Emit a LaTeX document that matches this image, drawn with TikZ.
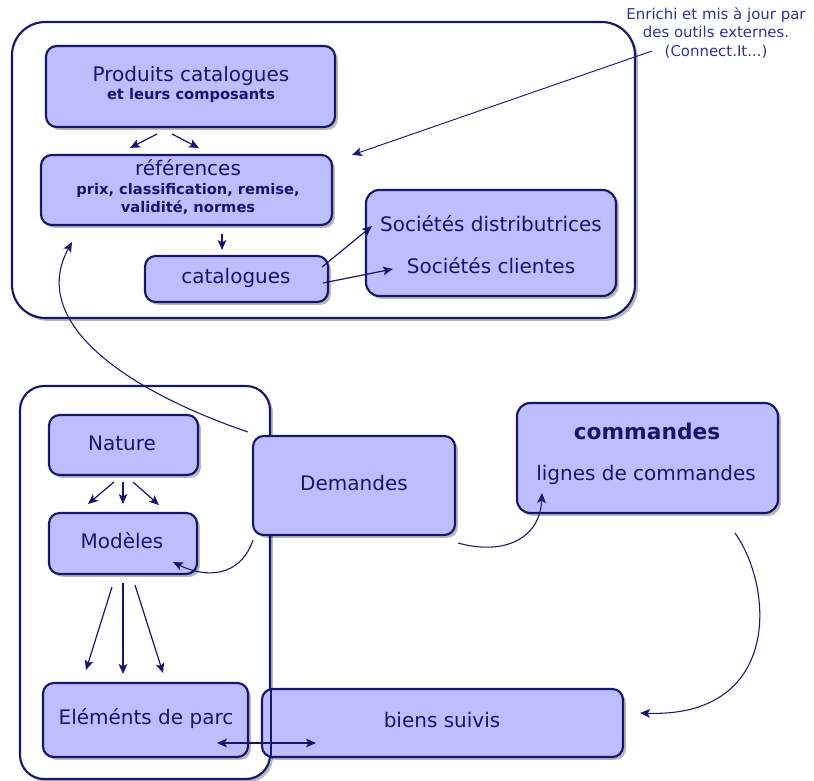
\documentclass[tikz,border=0pt]{standalone}
\usepackage{fontspec}
\setmainfont{DejaVu Sans}
\usetikzlibrary{fit,shadows,arrows.meta}
\definecolor{navy}{RGB}{22,22,108}
\definecolor{lav}{RGB}{190,190,255}
\definecolor{annot}{RGB}{50,50,150}
\tikzset{
  shade/.style={drop shadow={shadow xshift=2.2pt, shadow yshift=-2.2pt, fill=black, opacity=0.28}},
  box/.style={draw=navy, line width=1.6pt, fill=lav, rounded corners=8pt, inner sep=0pt, shade},
  cont/.style={draw=navy, line width=1.6pt, fill=white, inner sep=0pt, shade},
  lbl/.style={text=navy, font=\fontsize{15}{17}\selectfont, inner sep=0pt, anchor=base},
  sublbl/.style={text=navy, font=\bfseries\fontsize{11}{13}\selectfont, inner sep=0pt, anchor=base},
  tip/.style={Stealth[length=7.5pt,width=6.5pt,inset=1.8pt]},
  arr/.style={draw=navy, line width=0.9pt, -{Stealth[length=7.5pt,width=6.5pt,inset=1.8pt]}},
  darr/.style={draw=navy, line width=0.9pt, {Stealth[length=7.5pt,width=6.5pt,inset=1.8pt]}-{Stealth[length=7.5pt,width=6.5pt,inset=1.8pt]}},
  curv/.style={draw=navy, line width=0.8pt, -{Stealth[length=7.5pt,width=6.5pt,inset=1.8pt]}},
}
\begin{document}
\begin{tikzpicture}[x=0.75pt,y=-0.75pt]
\useasboundingbox (0,0) rectangle (814,781);
% ---------- top container ----------
\coordinate (t1) at (12,22); \coordinate (t2) at (635,318);
\node[cont, rounded corners=25pt, fit=(t1)(t2)] (top) {};
\coordinate (p1) at (46,46); \coordinate (p2) at (335,127);
\node[box, fit=(p1)(p2)] (prod) {};
\node[lbl] (tprod) at (191,82) {Produits catalogues};
\node[sublbl] (tprod2) at (191,100) {et leurs composants};
\coordinate (r1) at (41,155); \coordinate (r2) at (332,225);
\node[box, fit=(r1)(r2)] (ref) {};
\node[lbl] (tref) at (188,176) {références};
\node[sublbl] (tref2) at (188,195) {prix, classification, remise,};
\node[sublbl] (tref3) at (188,213) {validité, normes};
\coordinate (c1) at (145,256); \coordinate (c2) at (328,302);
\node[box, fit=(c1)(c2)] (cat) {};
\node[lbl] (tcat) at (236,283) {catalogues};
\coordinate (s1) at (366,190); \coordinate (s2) at (616,296);
\node[box, rounded corners=10pt, fit=(s1)(s2)] (soc) {};
\node[lbl] (tsoc1) at (491,231) {Sociétés distributrices};
\node[lbl] (tsoc2) at (491,273) {Sociétés clientes};
% ---------- annotation ----------
\node[text=annot, font=\fontsize{11.2}{13.9}\selectfont, align=center, anchor=north, inner sep=0pt] (annot) at (716,7)
  {Enrichi et mis à jour par\\des outils externes.\\(Connect.It...)};
% ---------- bottom-left container ----------
\coordinate (b1) at (20,386); \coordinate (b2) at (270,779);
\node[cont, rounded corners=18pt, fit=(b1)(b2)] (left) {};
\coordinate (n1) at (49,415); \coordinate (n2) at (198,475);
\node[box, fit=(n1)(n2)] (nat) {};
\node[lbl] (tnat) at (122,450) {Nature};
\coordinate (m1) at (49,513); \coordinate (m2) at (197,574);
\node[box, fit=(m1)(m2)] (mod) {};
\node[lbl] (tmod) at (122,548) {Modèles};
\coordinate (e1) at (43,683); \coordinate (e2) at (248,757);
\node[box, fit=(e1)(e2)] (elem) {};
\node[lbl] (telem) at (146,724) {Eléménts de parc};
% ---------- biens suivis ----------
\coordinate (g1) at (262,689); \coordinate (g2) at (623,757);
\node[box, fit=(g1)(g2)] (biens) {};
\node[lbl] (tbiens) at (442,727) {biens suivis};
\draw[navy, line width=1.6pt] (left.east |- biens.north) -- (left.east |- biens.south);
% ---------- demandes ----------
\coordinate (d1) at (253,436); \coordinate (d2) at (455,535);
\node[box, fit=(d1)(d2)] (dem) {};
\node[lbl] (tdem) at (354,490) {Demandes};
% ---------- commandes ----------
\coordinate (k1) at (517,403); \coordinate (k2) at (778,513);
\node[box, rounded corners=10pt, fit=(k1)(k2)] (cmd) {};
\node[text=navy, font=\bfseries\fontsize{16.3}{18}\selectfont, inner sep=0pt, anchor=base] (tcmd) at (647,439) {commandes};
\node[lbl] (tcmd2) at (646,480) {lignes de commandes};
% ---------- straight arrows ----------
\coordinate (a1s) at (157,134); \coordinate (a1e) at (130,148);
\coordinate (a2s) at (172,134); \coordinate (a2e) at (199,148);
\draw[arr] (a1s) -- (a1e);
\draw[arr] (a2s) -- (a2e);
\coordinate (a3s) at (222,234); \coordinate (a3e) at (222,250);
\draw[arr] (a3s) -- (a3e);
\coordinate (a4s) at (322,267); \coordinate (a4e) at (372,226);
\coordinate (a5s) at (323,283); \coordinate (a5e) at (393,269);
\draw[arr] (a4s) -- (a4e);
\draw[arr] (a5s) -- (a5e);
\coordinate (a6s) at (652,51); \coordinate (a6e) at (352,155);
\draw[arr, line width=0.7pt] (a6s) -- (a6e);
\coordinate (n1s) at (114,482); \coordinate (n1e) at (88,504);
\coordinate (n2s) at (123,482); \coordinate (n2e) at (123,504);
\coordinate (n3s) at (133,482); \coordinate (n3e) at (159,505);
\draw[arr] (n1s) -- (n1e);
\draw[arr] (n2s) -- (n2e);
\draw[arr] (n3s) -- (n3e);
\coordinate (m1s) at (112,587); \coordinate (m1e) at (86,670);
\coordinate (m2s) at (123,583); \coordinate (m2e) at (123,674);
\coordinate (m3s) at (135,585); \coordinate (m3e) at (163,673);
\draw[arr] (m1s) -- (m1e);
\draw[arr] (m2s) -- (m2e);
\draw[arr] (m3s) -- (m3e);
\coordinate (x1) at (217,743); \coordinate (x2) at (316,743);
\draw[darr] (x1) -- (x2);
% ---------- curved arrows ----------
\coordinate (q1s) at (248,432); \coordinate (q1e) at (72,242);
\draw[curv] (q1s) .. controls (125,390) and (28,322) .. (q1e);
\coordinate (q2s) at (253,540); \coordinate (q2e) at (173,562);
\draw[curv] (q2s) .. controls (240,578) and (205,578) .. (q2e);
\coordinate (q3s) at (458,543); \coordinate (q3e) at (542,493);
\draw[curv] (q3s) .. controls (505,556) and (540,538) .. (q3e);
\coordinate (q4s) at (735,533); \coordinate (q4e) at (640,713);
\draw[curv] (q4s) .. controls (775,590) and (780,718) .. (q4e);
\end{tikzpicture}
\end{document}
